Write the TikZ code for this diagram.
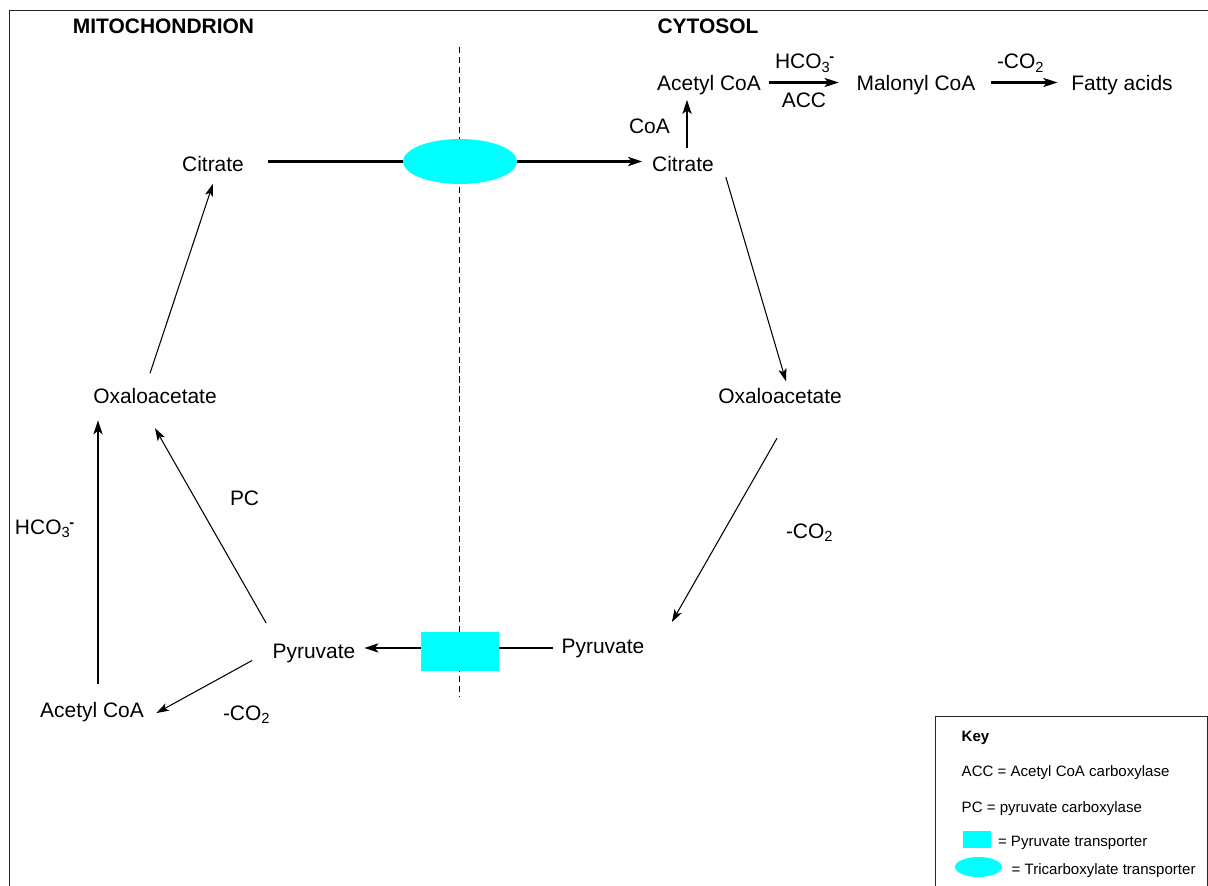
\documentclass[tikz,border=0pt]{standalone}
\usepackage{fontspec}
\setmainfont{Liberation Sans}
\usepackage{amsmath}
\usetikzlibrary{arrows.meta}
\usetikzlibrary{calc}
\usetikzlibrary{shapes.geometric}

\definecolor{transcyan}{RGB}{0,255,255}

\newcommand{\bigtext}{\fontsize{14.9pt}{17pt}\selectfont}
\newcommand{\keytext}{\fontsize{10.7pt}{13pt}\selectfont}
\newcommand{\bicarb}{HCO$_{\text{3}}{}^{\hspace{-0.05em}\text{\bfseries -}}$}
\newcommand{\lossco}{-CO$_{\text{2}}$}

\tikzset{
  every node/.style={inner sep=0pt, outer sep=0pt},
  metab/.style={anchor=base, font=\bigtext},
  note/.style={anchor=base west, font=\bigtext},
  keyline/.style={anchor=base west, font=\keytext},
  thickrxn/.style={line width=1.5pt, -{Stealth[length=10pt,width=6.5pt,inset=2.5pt]}},
  thinrxn/.style={line width=0.75pt, -{Stealth[length=9pt,width=5.8pt,inset=2.2pt]}},
  carrier/.style={line width=1.5pt},
  tritrans/.style={ellipse, fill=transcyan, minimum width=2.85cm, minimum height=1.125cm},
  pyrtrans/.style={rectangle, fill=transcyan, minimum width=1.95cm, minimum height=0.975cm},
}

\begin{document}
\begin{tikzpicture}[x=0.025cm, y=-0.025cm]
    \useasboundingbox (0,0) rectangle (1208,886);
    \clip (0,0) rectangle (1208,886);

    \draw [line width=0.7pt, black!85] (9,10) rectangle (1240,910); % outer frame, cut by the page

    \node [metab, font=\bigtext\bfseries] (mito) at (163.5,34) {MITOCHONDRION};
    \node [metab, font=\bigtext\bfseries] (cyto) at (708,34) {CYTOSOL};

    \coordinate (memtop) at (459,47);
    \coordinate (membot) at (459,697);
    \draw [line width=0.7pt, dash pattern=on 4.3pt off 2.8pt] (memtop) -- (membot);

    % mitochondrion side
    \node [metab] (citM) at (213,171.5) {Citrate};
    \node [metab] (oaaM) at (155,403) {Oxaloacetate};
    \node [metab] (pyrM) at (314,658) {Pyruvate};
    \node [metab] (acM) at (92,717.5) {Acetyl CoA};
    \node [note] (pcM) at (230,505) {PC};
    \node [note] (bicM) at (15,534.5) {\bicarb};
    \node [note] (coM) at (223,720) {\lossco};

    % cytosol side
    \node [metab] (citC) at (683,171.5) {Citrate};
    \node [metab] (acC) at (709,90.5) {Acetyl CoA};
    \node [metab] (maloC) at (916,90.5) {Malonyl CoA};
    \node [metab] (fatty) at (1122,90.5) {Fatty acids};
    \node [metab] (oaaC) at (780,403) {Oxaloacetate};
    \node [metab] (pyrC) at (603,653) {Pyruvate};
    \node [note] (coaC) at (629,133.5) {CoA};
    \node [note] (bicC) at (775,69) {\bicarb};
    \node [metab] (accC) at (804,107.5) {ACC};
    \node [note] (coTop) at (997,69) {\lossco};
    \node [note] (coC) at (786,538) {\lossco};

    % transporters
    \node [tritrans] (tca) at (460,161.5) {};
    \node [pyrtrans] (pt) at (460,651.5) {};

    \draw [carrier] ($(citM.east |- tca.west)+(24,0)$) -- (tca.west);
    \draw [thickrxn] (tca.east) -- ($(tca.east -| citC.west)+(-10,0)$);
    \draw [thickrxn] ($(citC.north)+(4,-8)$) -- ($(citC.north |- acC.south)+(4,5)$);
    \draw [thickrxn] ($(acC.base east)+(8,-8)$) -- ($(maloC.base west)+(-18,-8)$);
    \draw [thickrxn] ($(maloC.base east)+(16,-8)$) -- ($(fatty.base west)+(-14,-8)$);
    \draw [thinrxn] ($(citC.south east)+(12,5.5)$) -- ($(oaaC.north)+(6,-6.5)$);
    \draw [thinrxn] ($(oaaC.south)+(-3,35)$) -- ($(pyrC.north east)+(27.5,-16.5)$);
    \draw [carrier] ($(pyrC.west)+(-9,0)$) -- (pyrC.west -| pt.east);
    \draw [thickrxn] (pt.west |- pyrC.west) -- ($(pyrM.east |- pyrC.west)+(9,0)$);
    \draw [thinrxn] ($(pyrM.north west)+(-6.5,-20.5)$) -- ($(oaaM.south)+(0,25)$);
    \draw [thinrxn] ($(pyrM.west)+(-20.5,7.5)$) -- ($(acM.east)+(12.5,1)$);
    \draw [thickrxn] ($(acM.north)+(6,-18)$) -- ($(acM.north |- oaaM.south)+(6,17)$);
    \draw [thinrxn] ($(oaaM.north)+(-5,-14.5)$) -- ($(citM.south)+(0,12)$);

    % key
    \draw [line width=0.7pt, black!85] (935,716) rectangle (1207,920);
    \node [keyline, font=\keytext\bfseries] (keyhead) at (961.7,741.5) {Key};
    \node [keyline] (keyacc) at (961.7,776) {ACC = Acetyl CoA carboxylase};
    \node [keyline] (keypc) at (961.7,812) {PC = pyruvate carboxylase};
    \node [pyrtrans, minimum width=0.7cm, minimum height=0.425cm] (keypt) at (977,839.5) {};
    \node [keyline] (keyptx) at (998,846) {= Pyruvate transporter};
    \node [tritrans, minimum width=1.175cm, minimum height=0.5cm] (keytca) at (978.5,867) {};
    \node [keyline] (keytcax) at (1011.7,874) {= Tricarboxylate transporter};
\end{tikzpicture}
\end{document}
